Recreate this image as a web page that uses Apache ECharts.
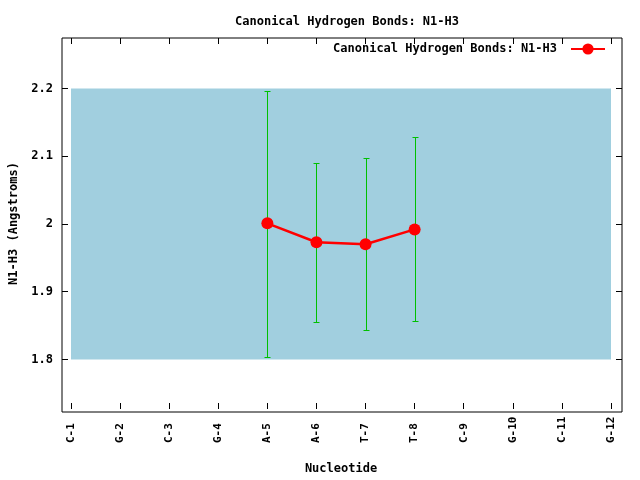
<!DOCTYPE html>
<html><head><meta charset="utf-8">
<script src="https://cdn.jsdelivr.net/npm/echarts@6/dist/echarts.min.js"></script>
<style>html,body{margin:0;padding:0;background:#fff}#c{width:640px;height:480px}</style>
</head><body><div id="c"></div>
<script>
const categories = ['C-1','G-2','C-3','G-4','A-5','A-6','T-7','T-8','C-9','G-10','C-11','G-12'];
const meanValues = [null,null,null,null,2.001,1.973,1.970,1.992,null,null,null,null];
const errLow  = [null,null,null,null,1.804,1.855,1.844,1.857,null,null,null,null];
const errHigh = [null,null,null,null,2.196,2.090,2.097,2.128,null,null,null,null];
const yTicks = [1.8,1.9,2.0,2.1,2.2];
const bandRange = [1.8,2.2];
const seriesName = 'Canonical Hydrogen Bonds: N1-H3';

const FONT = 'DejaVu Sans Mono';
const chart = echarts.init(document.getElementById('c'));
const errData = [];
categories.forEach((c,i)=>{ if(errLow[i]!=null) errData.push([i, errLow[i], errHigh[i]]); });

chart.setOption({
  animation:false,
  backgroundColor:'#fff',
  title:{text:'Canonical Hydrogen Bonds: N1-H3', left:342, top:11, textAlign:'center',
    textStyle:{fontFamily:FONT,fontSize:12,fontWeight:'bold',color:'#000'}},
  legend:{right:29, top:38, align:'right', itemWidth:34, itemHeight:14, itemGap:0,
    textStyle:{fontFamily:FONT,fontSize:12,fontWeight:'bold',color:'#000',padding:[0,9,0,0]},
    data:[{name:seriesName}]},
  grid:{left:71, right:29, top:38, bottom:68},
  xAxis:[{type:'category', data:categories, boundaryGap:false,
    axisLine:{show:false}, axisTick:{inside:true,length:6,lineStyle:{color:'#000'}},
    axisLabel:{rotate:90, align:'left', margin:34, fontFamily:FONT,fontSize:11,fontWeight:'bold',color:'#000'},
    name:'Nucleotide', nameLocation:'middle', nameGap:54,
    nameTextStyle:{fontFamily:FONT,fontSize:12,fontWeight:'bold',color:'#000'}, splitLine:{show:false}},
   {type:'category', data:categories, boundaryGap:false, position:'top',
    axisLine:{show:false}, axisTick:{inside:true,length:6,lineStyle:{color:'#000'}},
    axisLabel:{show:false}}],
  yAxis:[{type:'value', min:1.7267, max:2.2747, offset:9,
    axisLine:{show:false},
    axisTick:{show:true,inside:true,length:6,customValues:yTicks,lineStyle:{color:'#000'}},
    axisLabel:{customValues:yTicks, margin:9, fontFamily:FONT,fontSize:12,fontWeight:'bold',color:'#000',
      formatter:v=>String(Math.round(v*10)/10)},
    splitLine:{show:false},
    name:'N1-H3 (Angstroms)', nameLocation:'middle', nameGap:42, nameRotate:90,
    nameTextStyle:{fontFamily:FONT,fontSize:12,fontWeight:'bold',color:'#000'}},
   {type:'value', min:1.7267, max:2.2747, offset:11, position:'right',
    axisLine:{show:false},
    axisTick:{show:true,inside:true,length:6,customValues:yTicks,lineStyle:{color:'#000'}},
    axisLabel:{show:false}, splitLine:{show:false}}],
  graphic:[{type:'rect', shape:{x:62,y:38,width:560,height:374}, style:{fill:null,stroke:'#000',lineWidth:1}, z:100, silent:true}],
  series:[
    {type:'line', name:'band', data:[], silent:true, z:0,
      markArea:{silent:true, itemStyle:{color:'#a1cfdf'},
        data:[[{xAxis:categories[0], yAxis:bandRange[0]},{xAxis:categories[categories.length-1], yAxis:bandRange[1]}]]}},
    {type:'custom', name:'err', z:3, data:errData,
      renderItem:(params, api)=>{
        const x = api.value(0);
        const lo = api.coord([x, api.value(1)]);
        const hi = api.coord([x, api.value(2)]);
        const px = Math.round(lo[0]) + 0.5;
        const ly = Math.round(lo[1]) + 0.5, hy = Math.round(hi[1]) + 0.5;
        const w = 3;
        const st = {stroke:'#00c000', lineWidth:1};
        return {type:'group', children:[
          {type:'line', shape:{x1:px,y1:ly,x2:px,y2:hy}, style:st},
          {type:'line', shape:{x1:px-w,y1:ly,x2:px+w,y2:ly}, style:st},
          {type:'line', shape:{x1:px-w,y1:hy,x2:px+w,y2:hy}, style:st}
        ]};
      }},
    {type:'line', name:seriesName, data:meanValues, connectNulls:false, z:5,
      symbol:'circle', symbolSize:12, showSymbol:true,
      lineStyle:{color:'#ff0000', width:2.5}, itemStyle:{color:'#ff0000'}}
  ]
});
</script></body></html>
